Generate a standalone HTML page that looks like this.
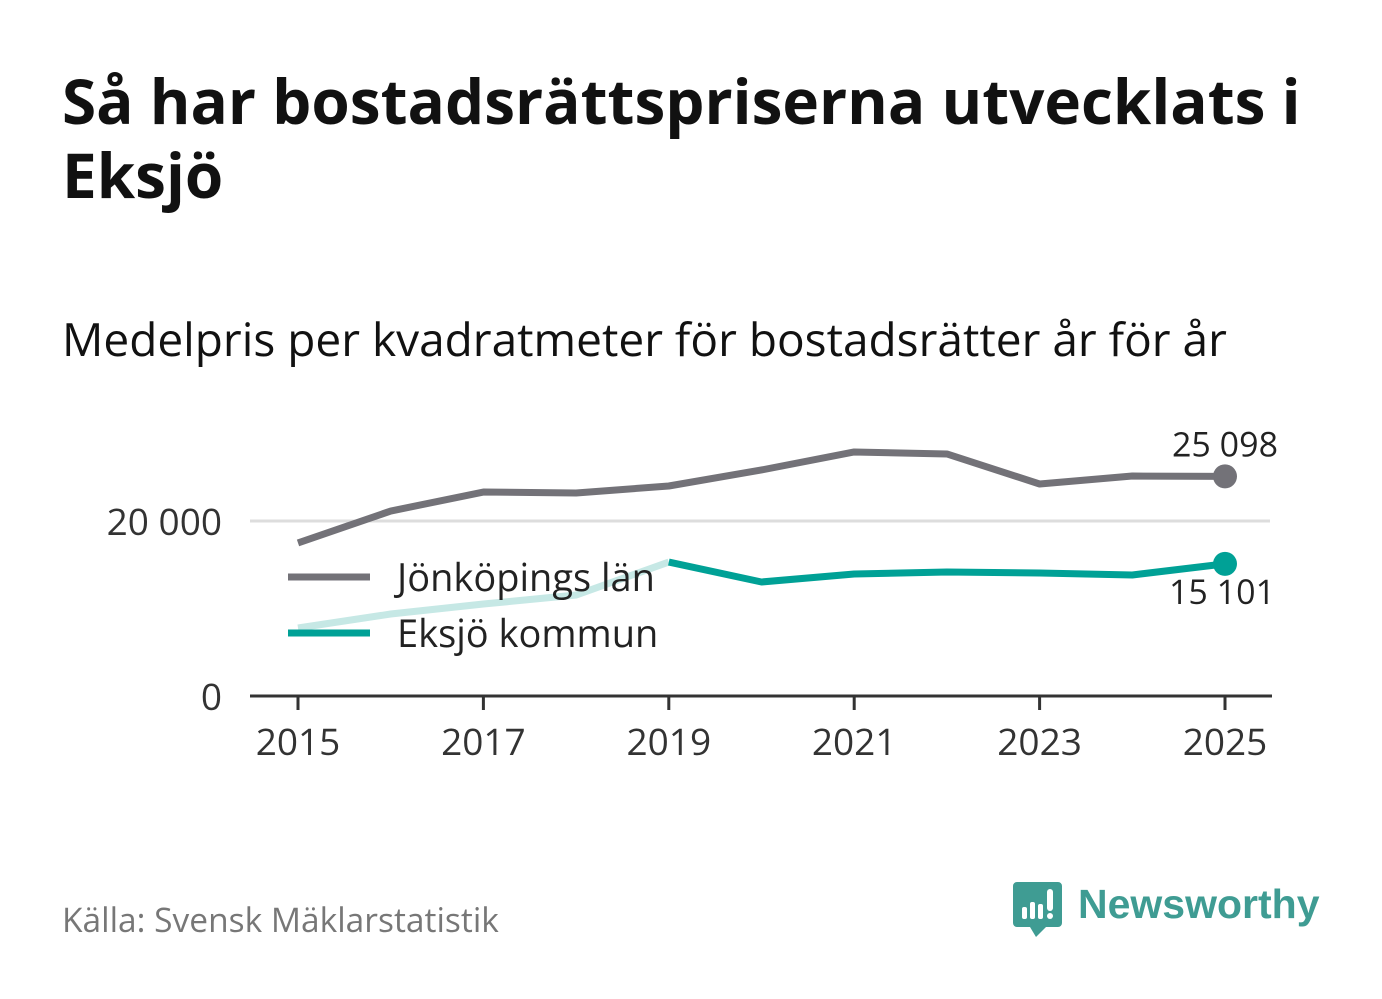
<!DOCTYPE html>
<html><head><meta charset="utf-8"><style>
body{margin:0;width:1382px;height:999px;background:#fff;font-family:"Open Sans","DejaVu Sans","Liberation Sans",sans-serif;overflow:hidden;position:relative}
.t{position:absolute;left:62px;top:64px;font-size:62px;font-weight:bold;color:#111;line-height:74px;width:1300px}
.s{position:absolute;left:62px;top:308px;font-size:46px;color:#111}
.src{position:absolute;left:62px;top:896px;font-size:33.5px;color:#777}
</style></head><body>
<div class="t">Så har bostadsrättspriserna utvecklats i Eksjö</div>
<div class="s">Medelpris per kvadratmeter för bostadsrätter år för år</div>
<svg id="c" width="1382" height="999" style="position:absolute;left:0;top:0"></svg>
<div class="src">Källa: Svensk Mäklarstatistik</div>
<svg style="position:absolute;left:1010px;top:880px" width="320" height="62">
<path d="M3 2h45a4 4 0 0 1 4 4v37a4 4 0 0 1-4 4H36l-10 10-6-10H7a4 4 0 0 1-4-4V6a4 4 0 0 1 4-4z" fill="#3f9c93"/>
<rect x="12" y="27" width="5" height="12" rx="2" fill="#fff"/><rect x="20" y="22" width="5" height="17" rx="2" fill="#fff"/><rect x="28" y="24" width="5" height="15" rx="2" fill="#fff"/><rect x="37" y="9" width="6" height="22" rx="3" fill="#fff"/><circle cx="40" cy="36" r="3" fill="#fff"/>
<text x="68" y="38" font-size="41" font-weight="bold" fill="#3f9c93" font-family="Liberation Sans,sans-serif">Newsworthy</text>
</svg>
<script>
const years=[2015,2016,2017,2018,2019,2020,2021,2022,2023,2024,2025];
const jkpg=[17490,21140,23310,23200,24000,25830,27890,27660,24230,25140,25098];
const eksjo=[7770,9370,10510,11540,15310,13030,13940,14170,14060,13830,15101];
const yTicks=[0,20000];
const yTickLabels=["0","20 000"];
const xTicks=[2015,2017,2019,2021,2023,2025];
const NS="http://www.w3.org/2000/svg",svg=document.getElementById('c');
const X=y=>298+(y-2015)*92.7, Y=v=>696-v*0.00875;
function el(t,a,p){const e=document.createElementNS(NS,t);for(const k in a)e.setAttribute(k,a[k]);(p||svg).appendChild(e);return e;}
yTicks.forEach((v,i)=>{
 if(v>0){const g=el('line',{x1:250,x2:1270,y1:Y(v),y2:Y(v),stroke:'#ddd','stroke-width':3});}
 const t=el('text',{x:222,y:Y(v)+14,'text-anchor':'end','font-size':37,fill:'#333'});t.textContent=yTickLabels[i];
 
});
const ax=el('line',{x1:250,x2:1272,y1:696,y2:696,stroke:'#333','stroke-width':3});

xTicks.forEach(y=>{
 const l=el('line',{x1:X(y),x2:X(y),y1:696,y2:710,stroke:'#333','stroke-width':3});
 const t=el('text',{x:X(y),y:755,'text-anchor':'middle','font-size':37,fill:'#333'});t.textContent=y;
 
});
function pts(arr,a,b){return arr.slice(a,b).map((v,i)=>X(years[a+i])+','+Y(v)).join(' ');}
const l1=el('polyline',{points:pts(jkpg,0,11),fill:'none',stroke:'#737278','stroke-width':7,'stroke-linejoin':'round'});

const l2a=el('polyline',{points:pts(eksjo,0,5),fill:'none',stroke:'#c6e8e5','stroke-width':7});

const l2=el('polyline',{points:pts(eksjo,4,11),fill:'none',stroke:'#00a196','stroke-width':7,'stroke-linejoin':'round'});

const d1=el('circle',{cx:X(2025),cy:Y(jkpg[10]),r:12,fill:'#737278'});
const d2=el('circle',{cx:X(2025),cy:Y(eksjo[10]),r:12,fill:'#00a196'});
const v1=el('text',{x:1225,y:Y(jkpg[10])-20,'text-anchor':'middle','font-size':34,fill:'#222'});v1.textContent='25 098';

const v2=el('text',{x:1222,y:Y(eksjo[10])+40,'text-anchor':'middle','font-size':34,fill:'#222'});v2.textContent='15 101';

[['Jönköpings län','#737278',577],['Eksjö kommun','#00a196',633]].forEach(([n,c,y])=>{
 const g=el('g',{});
 el('line',{x1:288,x2:370,y1:y,y2:y,stroke:c,'stroke-width':7},g);
 const t=el('text',{x:397,y:y+14,'font-size':38,fill:'#222'},g);t.textContent=n;
});
</script>
</body></html>
